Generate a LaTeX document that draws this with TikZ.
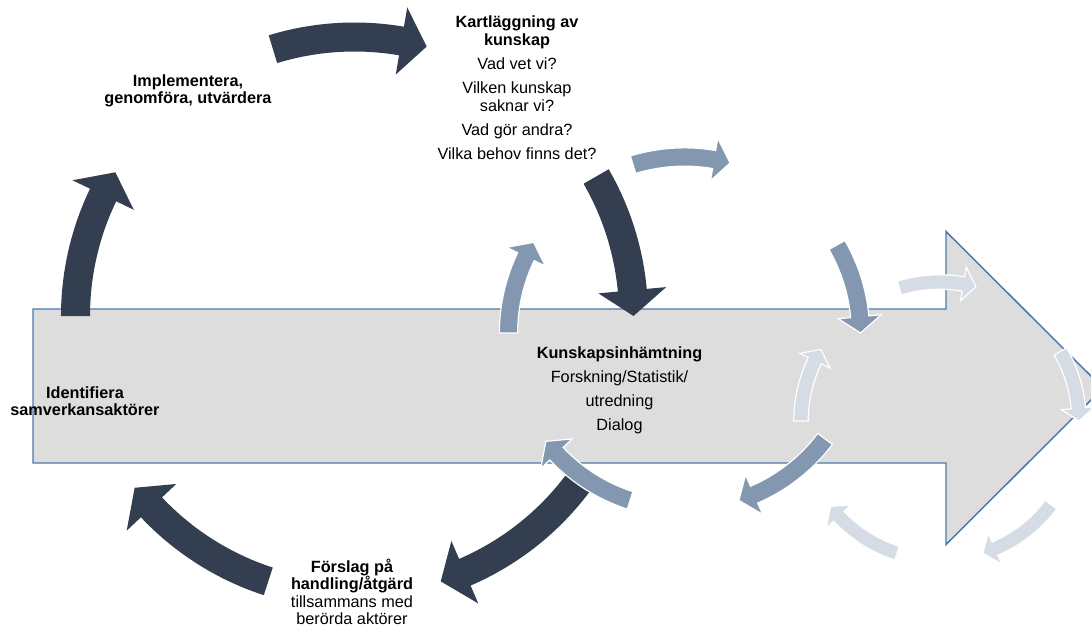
\documentclass[tikz,border=0pt]{standalone}
\usepackage{fontspec}
\setmainfont{Liberation Sans}
\usetikzlibrary{positioning}

\definecolor{darkslate}{HTML}{333F50}
\definecolor{midslate}{HTML}{8497B0}
\definecolor{lightslate}{HTML}{D6DCE5}
\definecolor{boxgray}{HTML}{DDDDDD}
\definecolor{boxline}{HTML}{4A78A8}

% curved block arrow: #1 centre, #2 radius, #3 start angle, #4 tip angle, #5 style
\newcommand{\cyclearrow}[5]{%
  \pgfmathsetmacro{\halfband}{0.052*#2}%
  \pgfmathsetmacro{\halfhead}{0.122*#2}%
  \pgfmathsetmacro{\headbase}{#4+5.3}%
  \path[#5] ([shift={(#3:{#2+\halfband})}]#1)
    arc[start angle=#3, end angle=\headbase, radius=#2+\halfband]
    -- ([shift={(\headbase:{#2+\halfhead})}]#1)
    -- ([shift={(#4:#2)}]#1)
    -- ([shift={(\headbase:{#2-\halfhead})}]#1)
    -- ([shift={(\headbase:{#2-\halfband})}]#1)
    arc[start angle=\headbase, end angle=#3, radius=#2-\halfband]
    -- cycle;}

\begin{document}
\begin{tikzpicture}[x=0.75pt,y=0.75pt,
  darkarrow/.style={fill=darkslate},
  midarrow/.style={fill=midslate,draw=white,line width=0.9pt},
  lightarrow/.style={fill=lightslate,draw=white,line width=0.9pt},
  cycletext/.style={align=center,inner sep=0pt,font=\fontsize{12.2pt}{13pt}\selectfont}]
  \useasboundingbox (0,0) rectangle (1091,-627);

  % big arrow in the background
  \filldraw[fill=boxgray,draw=boxline,line width=1.1pt]
    (33,-309) -- (946,-309) -- (946,-231.5) -- (1103,-388)
    -- (946,-544.5) -- (946,-463) -- (33,-463) -- cycle;

  \coordinate (bigc) at (354.5,-316);
  \coordinate (midc) at (684.5,-333);
  \coordinate (smallc) at (940,-421);

  \foreach \a/\b in {180/149,107/75,30/0,-35/-72,-108/-142}
    \cyclearrow{bigc}{279}{\a}{\b}{darkarrow};
  \foreach \a/\b in {180/149,107/75,30/0,-37/-72,-108/-142}
    \cyclearrow{midc}{176}{\a}{\b}{midarrow};
  \foreach \a/\b in {180/149,107/75,30/0,-37/-72,-108/-142}
    \cyclearrow{smallc}{139}{\a}{\b}{lightarrow};

  \node[cycletext,font=\fontsize{12.2pt}{13.5pt}\selectfont] (kartlagg) at (517,-88)
    {\textbf{Kartläggning av}\\\textbf{kunskap}\\[4.5pt]Vad vet vi?\\[4.5pt]Vilken kunskap\\saknar vi?\\[4.5pt]Vad gör andra?\\[4.5pt]Vilka behov finns det?};
  \node[cycletext,font=\fontsize{12.2pt}{13.5pt}\selectfont] (inhamt) at (619.5,-390.5)
    {\textbf{Kunskapsinhämtning}\\[4.5pt]Forskning/Statistik/\\[4.5pt]utredning\\[4.5pt]Dialog};
  \node[cycletext] (implem) at (188,-91)
    {\textbf{Implementera,}\\\textbf{genomföra, utvärdera}};
  \node[cycletext] (identif) at (85,-401.5)
    {\textbf{Identifiera}\\\textbf{samverkansaktörer}};
  \node[cycletext] (forslag) at (352,-592)
    {\textbf{Förslag på}\\\textbf{handling/åtgärd}\\tillsammans med\\berörda aktörer};
\end{tikzpicture}
\end{document}
